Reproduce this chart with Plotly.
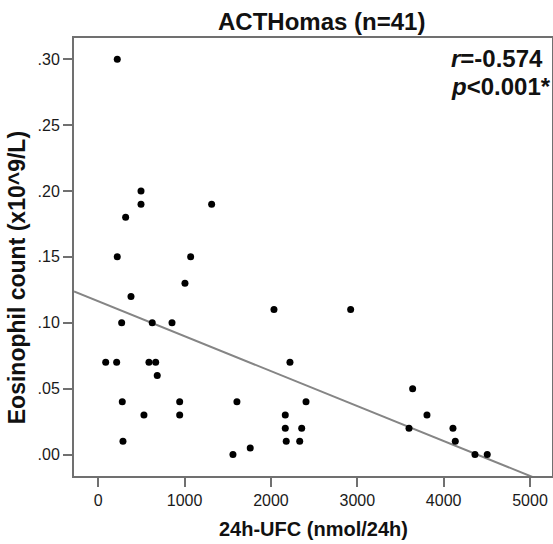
import numpy as np
import plotly.graph_objects as go

# ---- data ----
ufc = [220, 495, 495, 317, 1313, 220, 1070, 1004, 379, 271, 625, 854, 2035,
       86, 213, 587, 665, 683, 2220, 278, 943, 1606, 2406, 529, 943, 2166,
       2166, 2356, 286, 2177, 2333, 1560, 1760, 2923, 3641, 3807, 3599,
       4108, 4135, 4363, 4505]
eos = [0.30, 0.20, 0.19, 0.18, 0.19, 0.15, 0.15, 0.13, 0.12, 0.10, 0.10, 0.10, 0.11,
       0.07, 0.07, 0.07, 0.07, 0.06, 0.07, 0.04, 0.04, 0.04, 0.04, 0.03, 0.03, 0.03,
       0.02, 0.02, 0.01, 0.01, 0.01, 0.00, 0.005, 0.11, 0.05, 0.03, 0.02,
       0.02, 0.01, 0.00, 0.00]

fit_intercept = 0.1163
fit_slope = -2.651e-5

x_tickvals = [0, 1000, 2000, 3000, 4000, 5000]
x_ticktext = ["0", "1000", "2000", "3000", "4000", "5000"]
y_tickvals = [0.00, 0.05, 0.10, 0.15, 0.20, 0.25, 0.30]
y_ticktext = [".00", ".05", ".10", ".15", ".20", ".25", ".30"]

title_text = "ACTHomas (n=41)"
x_title = "24h-UFC (nmol/24h)"
y_title = "Eosinophil count (x10^9/L)"
r_text = "<b><i>r</i>=-0.574</b>"
p_text = "<b><i>p</i>&lt;0.001*</b>"

x_range = [-281, 5255]
y_range = [-0.0163, 0.3161]

FONT = "Liberation Sans, Arial, sans-serif"
AX = "#707070"

x_line = np.array(x_range, dtype=float)
y_line = fit_intercept + fit_slope * x_line

fig = go.Figure()
fig.add_trace(go.Scatter(x=x_line, y=y_line, mode="lines",
                         line=dict(color="#858585", width=2),
                         hoverinfo="skip", showlegend=False))
fig.add_trace(go.Scatter(x=ufc, y=eos, mode="markers",
                         marker=dict(color="black", size=7),
                         showlegend=False))

fig.update_layout(
    width=553, height=544,
    margin=dict(l=74, r=1, t=38, b=68, autoexpand=False),
    paper_bgcolor="white", plot_bgcolor="white",
    font=dict(family=FONT, color="#222"),
    showlegend=False,
)
fig.update_xaxes(range=x_range, tickvals=x_tickvals, ticktext=x_ticktext,
                 showgrid=False, zeroline=False, showline=True, mirror=True,
                 linecolor=AX, linewidth=2, ticks="outside", ticklen=9,
                 tickcolor=AX, tickwidth=2, tickfont=dict(size=16, color="#1a1a1a"))
fig.update_yaxes(range=y_range, tickvals=y_tickvals, ticktext=y_ticktext,
                 showgrid=False, zeroline=False, showline=True, mirror=True,
                 linecolor=AX, linewidth=2, ticks="outside", ticklen=9,
                 tickcolor=AX, tickwidth=2, tickfont=dict(size=16, color="#1a1a1a"))

ann = [
    dict(text="<b>" + title_text + "</b>", x=0.517, y=1.0, xref="paper", yref="paper",
         xanchor="center", yanchor="bottom", yshift=1, showarrow=False,
         font=dict(size=24, color="#111")),
    dict(text="<b>" + x_title + "</b>", x=0.5, y=-0.12, xref="paper", yref="paper",
         xanchor="center", yanchor="middle", showarrow=False,
         font=dict(size=20, color="#111")),
    dict(text="<b>" + y_title + "</b>", x=-0.12, y=0.453, xref="paper", yref="paper",
         xanchor="center", yanchor="middle", textangle=-90, showarrow=False,
         font=dict(size=23, color="#111")),
    dict(text=r_text, x=4062, y=0.3005, xref="x", yref="y", xanchor="left",
         yanchor="middle", showarrow=False, font=dict(size=24, color="#111")),
    dict(text=p_text, x=4062, y=0.2795, xref="x", yref="y", xanchor="left",
         yanchor="middle", showarrow=False, font=dict(size=24, color="#111")),
]
fig.update_layout(annotations=ann)

fig.write_html("out.html", config={"displayModeBar": False},
               post_script="document.body.style.margin='0';document.body.style.overflow='hidden';")
